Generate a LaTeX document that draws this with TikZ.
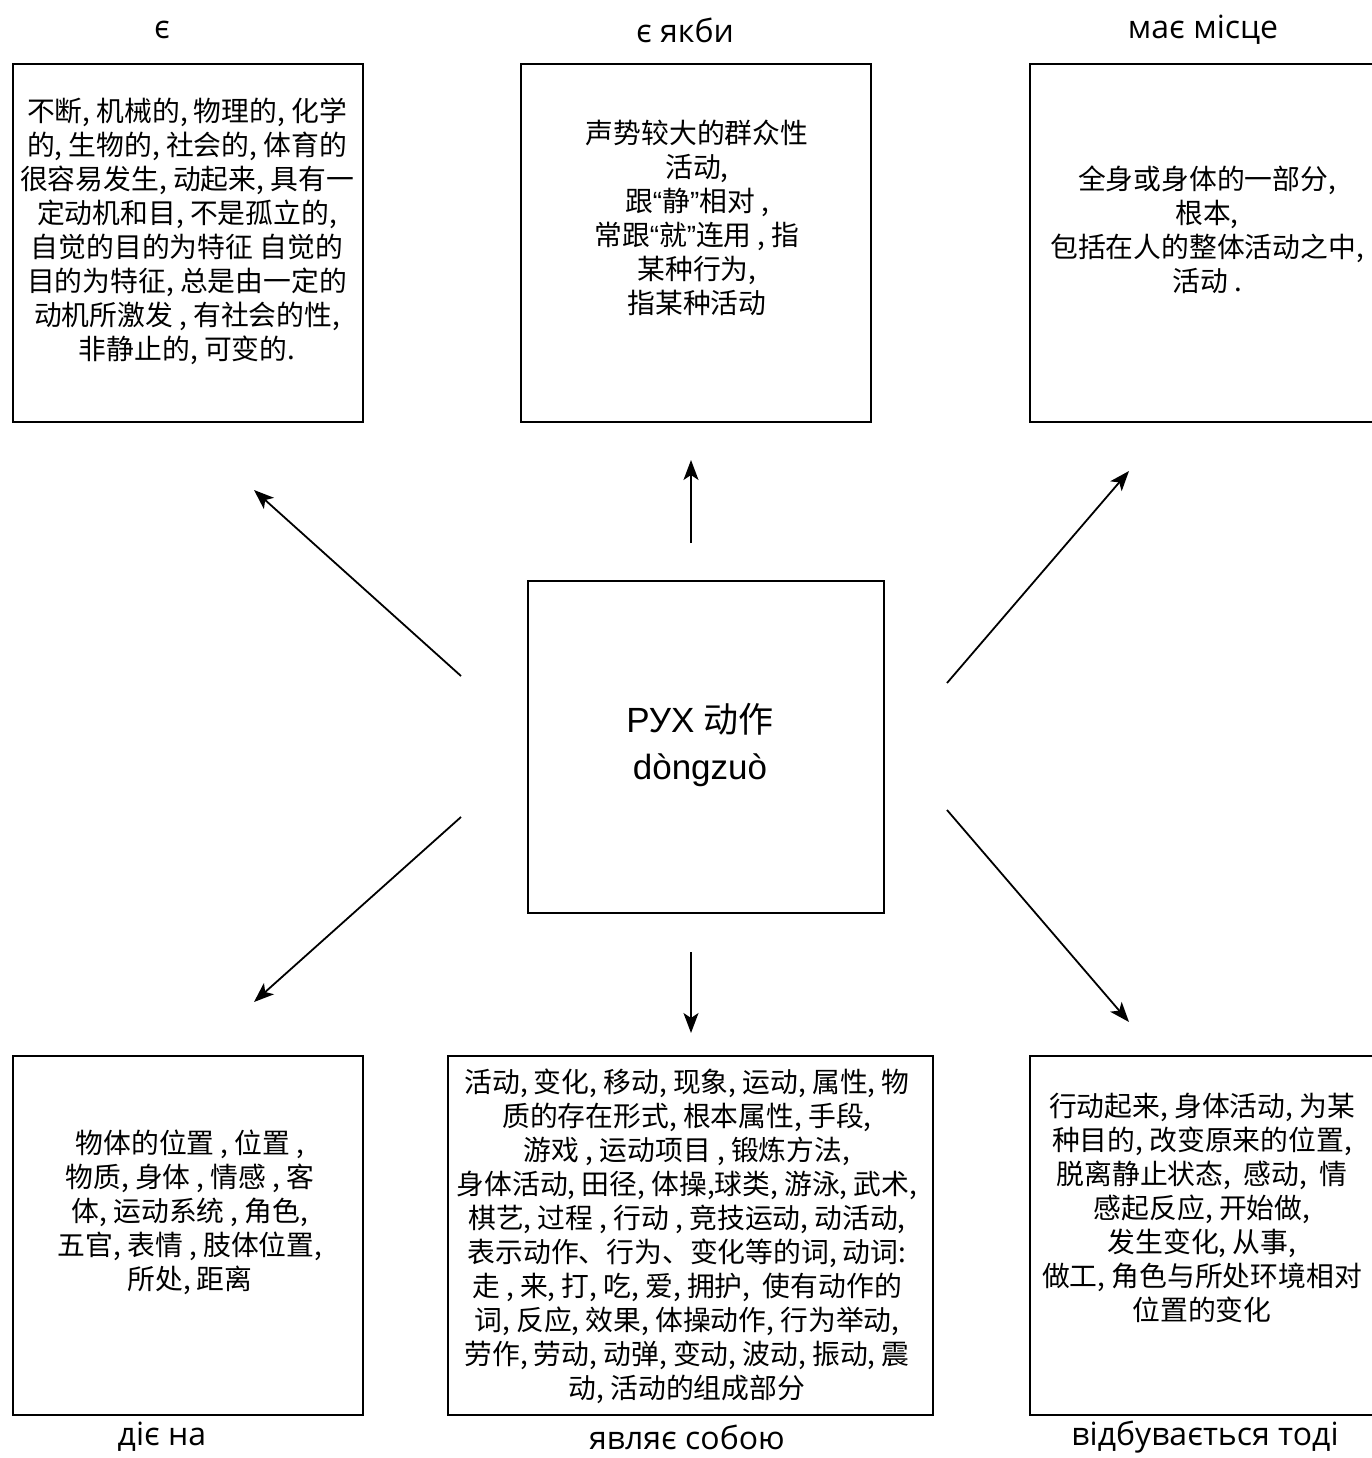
\documentclass[tikz,border=0pt]{standalone}
\usepackage{fontspec}
\setmainfont{Open Sans}
\newfontfamily\cjk{Noto Sans CJK SC}
\newfontfamily\arialf{Liberation Sans}
\usetikzlibrary{arrows.meta}
\newcommand{\myLq}{{\arialf “}}
\newcommand{\myRq}{{\arialf ”}}
\begin{document}
\begin{tikzpicture}[x=1pt,y=-1pt,
  box/.style={draw, line width=1.8pt, minimum width=350pt, minimum height=358pt, inner sep=0pt, anchor=north west},
  cbox/.style={draw, line width=1.8pt, minimum width=356pt, minimum height=332pt, inner sep=0pt, anchor=north west},
  wbox/.style={draw, line width=1.8pt, minimum width=485pt, minimum height=359pt, inner sep=0pt, anchor=north west},
  txt/.style={font=\cjk\fontsize{27.8}{34}\selectfont, align=center, inner sep=0pt},
  lbl/.style={font=\fontsize{32}{36}\selectfont, inner sep=0pt},
  arr/.style={line width=1.8pt, -{Stealth[length=20pt,width=15pt,inset=5pt]}}
]
\useasboundingbox (0,0) rectangle (1371,1458);
\fill[white] (0,0) rectangle (1371,1458);

% boxes
\node[box] (tl) at (12,63) {};
\node[box] (tc) at (520,63) {};
\node[box] (tr) at (1029,63) {};
\node[cbox] (c) at (527,580) {};
\node[box, minimum height=359pt] (bl) at (12,1055) {};
\node[wbox] (bc) at (447,1055) {};
\node[box, minimum height=359pt] (br) at (1029,1055) {};

% titles
\node[lbl] (ltl) at (162,30) {є};
\node[lbl] (ltc) at (685,30) {є якби};
\node[lbl] (ltr) at (1203,30) {має місце};
\node[lbl] (lbl1) at (162,1437) {діє на};
\node[lbl] (lbc) at (687,1437) {являє собою};
\node[lbl] (lbr) at (1205,1437) {відбувається тоді};

% texts
\node[txt] (ttl) at (187,231) {不断, 机械的, 物理的, 化学\\的, 生物的, 社会的, 体育的\\很容易发生, 动起来, 具有一\\定动机和目, 不是孤立的,\\自觉的目的为特征 自觉的\\目的为特征, 总是由一定的\\动机所激发 , 有社会的性,\\非静止的, 可变的.};
\node[txt] (ttc) at (697,218) {声势较大的群众性\\活动,\\跟\myLq 静\myRq 相对 ,\\常跟\myLq 就\myRq 连用 , 指\\某种行为,\\指某种活动};
\node[txt] (ttr) at (1207,230) {全身或身体的一部分,\\根本,\\包括在人的整体活动之中,\\活动 .};
\node[txt] (tbl) at (190,1212) {物体的位置 , 位置 ,\\物质, 身体 , 情感 , 客\\体, 运动系统 , 角色,\\五官, 表情 , 肢体位置,\\所处, 距离};
\node[txt] (tbc) at (687,1236) {活动, 变化, 移动, 现象, 运动, 属性, 物\\质的存在形式, 根本属性, 手段,\\游戏 , 运动项目 , 锻炼方法,\\身体活动, 田径, 体操,球类, 游泳, 武术,\\棋艺, 过程 , 行动 , 竞技运动, 动活动,\\表示动作、行为、变化等的词, 动词:\\走 , 来, 打, 吃, 爱, 拥护,\ \ 使有动作的\\词, 反应, 效果, 体操动作, 行为举动,\\劳作, 劳动, 动弹, 变动, 波动, 振动, 震\\动, 活动的组成部分};
\node[txt] (tbr) at (1202,1208) {行动起来, 身体活动, 为某\\种目的, 改变原来的位置,\\脱离静止状态,\ \ 感动,\ \ 情\\感起反应, 开始做,\\发生变化, 从事,\\做工, 角色与所处环境相对\\位置的变化};

\node[align=center, inner sep=0pt, font=\fontsize{35}{47}\selectfont] (tc0) at (700,745) {{\arialf РУХ} {\cjk 动作}\\{\arialf dòngzuò}};

% arrows
\coordinate (a1s) at (461,676); \coordinate (a1e) at (254,490);
\coordinate (a2s) at (691,543); \coordinate (a2e) at (691,460);
\coordinate (a3s) at (947,683); \coordinate (a3e) at (1129,471);
\coordinate (a4s) at (461,817); \coordinate (a4e) at (254,1002);
\coordinate (a5s) at (691,952); \coordinate (a5e) at (691,1033);
\coordinate (a6s) at (947,810); \coordinate (a6e) at (1129,1022);
\draw[arr] (a1s) -- (a1e);
\draw[arr] (a2s) -- (a2e);
\draw[arr] (a3s) -- (a3e);
\draw[arr] (a4s) -- (a4e);
\draw[arr] (a5s) -- (a5e);
\draw[arr] (a6s) -- (a6e);
\end{tikzpicture}
\end{document}
